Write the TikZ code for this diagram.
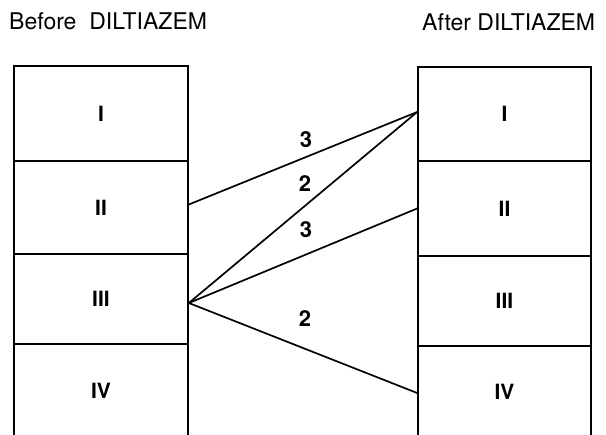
\documentclass[tikz,border=0pt]{standalone}
\usepackage{fontspec}
\setmainfont{TeX Gyre Heros}
\begin{document}
\begin{tikzpicture}[x=1pt,y=-1pt,
  cell/.style={draw,line width=1.7pt,inner sep=0pt,anchor=center},
  lcell/.style={cell,minimum width=174pt},
  rcell/.style={cell,minimum width=173pt},
  roman/.style={font=\fontsize{21}{24}\selectfont\bfseries},
  conn/.style={line width=1.7pt},
  num/.style={inner sep=0pt,font=\fontsize{22}{25}\selectfont\bfseries},
  ttl/.style={inner sep=0pt,anchor=base west,font=\fontsize{23}{26}\selectfont}]
\clip (0,0) rectangle (606,435);
\fill[white] (0,0) rectangle (606,435);
% titles
\node[ttl] (tb) at (9,29.5) {Before\ \ DILTIAZEM};
\node[ttl] (ta) at (422,30.5) {After DILTIAZEM};
% left column
\node[lcell,minimum height=95pt] (L1) at (101,113.5) {};
\node[lcell,minimum height=93pt] (L2) at (101,207.5) {};
\node[lcell,minimum height=90pt] (L3) at (101,299) {};
\node[lcell,minimum height=93pt] (L4) at (101,390.5) {};
\node[roman] (l1t) at (L1) {I};
\node[roman] (l2t) at (L2) {II};
\node[roman] (l3t) at (L3) {III};
\node[roman] (l4t) at (L4) {IV};
% right column
\node[rcell,minimum height=94pt] (R1) at (504.5,114) {};
\node[rcell,minimum height=95pt] (R2) at (504.5,208.5) {};
\node[rcell,minimum height=90pt] (R3) at (504.5,301) {};
\node[rcell,minimum height=92pt] (R4) at (504.5,392) {};
\node[roman] (r1t) at (R1) {I};
\node[roman] (r2t) at (R2) {II};
\node[roman] (r3t) at (R3) {III};
\node[roman] (r4t) at (R4) {IV};
% connectors
\draw[conn] ([yshift=3pt]L2.east) -- ([yshift=2pt]R1.west);
\draw[conn] ([yshift=-4pt]L3.east) -- ([yshift=2pt]R1.west);
\draw[conn] ([yshift=-4pt]L3.east) -- (R2.west);
\draw[conn] ([yshift=-4pt]L3.east) -- ([yshift=-1pt]R4.west);
% labels
\node[num] (n1) at (306,140) {3};
\node[num] (n2) at (305,184) {2};
\node[num] (n3) at (306,230) {3};
\node[num] (n4) at (305,319) {2};
\end{tikzpicture}
\end{document}
